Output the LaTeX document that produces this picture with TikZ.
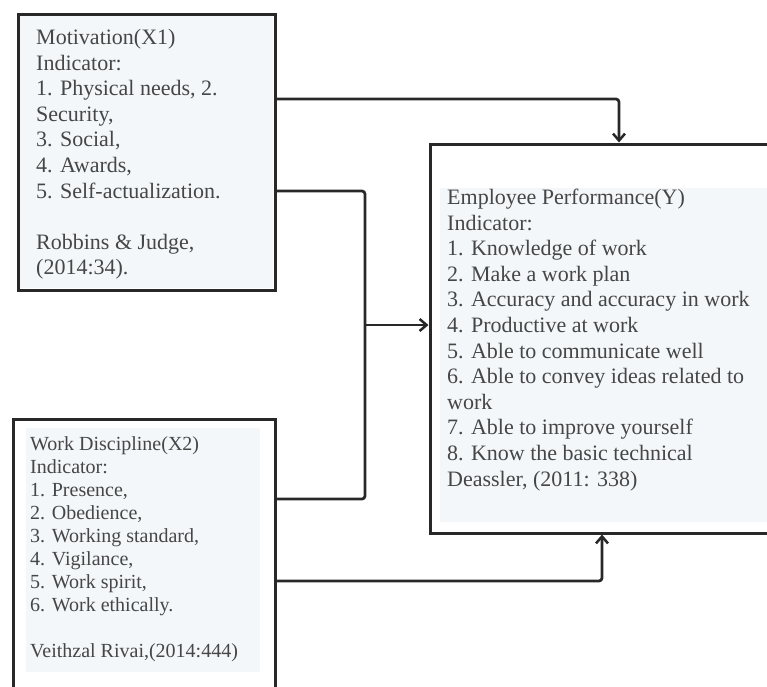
\documentclass[tikz,border=0pt]{standalone}
\usepackage{fontspec}
\setmainfont{Liberation Serif}
\usetikzlibrary{arrows.meta}
\definecolor{linec}{RGB}{40,40,40}
\definecolor{textc}{RGB}{70,70,70}
\definecolor{fillc}{RGB}{244,247,250}
\tikzset{
  boxnode/.style={draw=linec, line width=3pt, rectangle, inner sep=0pt},
  txt/.style={anchor=base west, inner sep=0pt, text=textc},
  bigtxt/.style={txt, font=\fontsize{22}{25.6}\selectfont},
  smalltxt/.style={txt, font=\fontsize{20}{23}\selectfont},
  conn/.style={draw=linec, line width=2.7pt, rounded corners=3pt},
  arr/.style={-{Straight Barb[length=7pt,width=12pt,line width=2.5pt]}}
}
\begin{document}
\begin{tikzpicture}[x=1pt,y=-1pt]
\useasboundingbox (0,0) rectangle (767,686);
\fill[white] (0,0) rectangle (767,686);
\clip (0,0) rectangle (767,686);
% light fills
\fill[fillc] (20,16) rectangle (273,288);
\fill[fillc] (440,188) rectangle (767,522);
\fill[fillc] (26,428) rectangle (260,672);
% boxes
\node[boxnode, minimum width=257pt, minimum height=276pt] (mot) at (146.5,152) {};
\node[boxnode, minimum width=262pt, minimum height=301pt] (disc) at (144,569.5) {};
\node[boxnode, minimum width=370pt, minimum height=389pt] (perf) at (615,338.5) {};
% texts
\node[bigtxt] (motT) at (36,44.5) {\begin{tabular}[t]{@{}l@{}}
Motivation(X1)\\
Indicator:\\
1. Physical needs, 2.\\
Security,\\
3. Social,\\
4. Awards,\\
5. Self-actualization.\\
\\
Robbins \& Judge,\\
(2014:34).
\end{tabular}};
\node[bigtxt] (perfT) at (447,204.5) {\begin{tabular}[t]{@{}l@{}}
Employee Performance(Y)\\
Indicator:\\
1. Knowledge of work\\
2. Make a work plan\\
3. Accuracy and accuracy in work\\
4. Productive at work\\
5. Able to communicate well\\
6. Able to convey ideas related to\\
work\\
7. Able to improve yourself\\
8. Know the basic technical\\
Deassler, (2011: 338)
\end{tabular}};
\node[smalltxt] (discT) at (30,450) {\begin{tabular}[t]{@{}l@{}}
Work Discipline(X2)\\
Indicator:\\
1. Presence,\\
2. Obedience,\\
3. Working standard,\\
4. Vigilance,\\
5. Work spirit,\\
6. Work ethically.\\
\\
Veithzal Rivai,(2014:444)
\end{tabular}};
% connectors
\coordinate (j) at (365,325);
\draw[conn, arr] ([yshift=53pt]mot.east) -| ([xshift=4pt]perf.north);
\draw[conn] ([yshift=-39pt]mot.east) -| (j |- 0,499) -- ([yshift=70.5pt]disc.east);
\draw[conn, arr] (j) -- (perf.west |- j);
\draw[conn, arr] ([yshift=-11.5pt]disc.east) -| ([xshift=-13pt]perf.south);
\end{tikzpicture}
\end{document}
